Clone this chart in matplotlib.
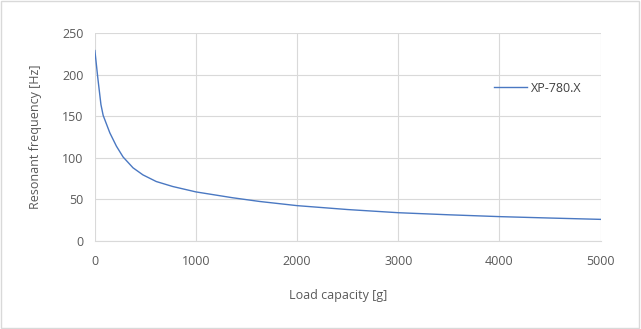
import matplotlib
matplotlib.use("Agg")
import matplotlib.pyplot as plt
from matplotlib.patches import Rectangle

# Values
load_g = [0, 30, 60, 82, 148, 213, 279, 377, 475, 607, 770, 1000,
          1361, 1630, 2000, 2500, 3000, 3500, 4000, 4500, 5000]
freq_hz = [229, 195, 164, 151, 130, 114, 101, 88, 79.5, 71.5, 65.5, 59,
           52, 47.5, 42.5, 37.8, 34, 31.5, 29.3, 27.6, 26]
series_name = "XP-780.X"
x_ticks = [0, 1000, 2000, 3000, 4000, 5000]
y_ticks = [0, 50, 100, 150, 200, 250]

plt.rcParams['font.family'] = ['Open Sans', 'DejaVu Sans']
text_col = "#595959"

fig = plt.figure(figsize=(6.41, 3.29), dpi=100)
fig.patches.append(Rectangle((0.002, 0.004), 0.995, 0.992, transform=fig.transFigure,
                             fill=False, edgecolor="#d9d9d9", linewidth=1))
ax = fig.add_axes([0.148, 0.2675, 0.789, 0.632])

ax.plot(load_g, freq_hz, color="#4a78c2", linewidth=1.0, label=series_name)

ax.set_xlim(0, 5000)
ax.set_ylim(0, 250)
ax.set_xticks(x_ticks)
ax.set_yticks(y_ticks)
ax.grid(True, color="#d9d9d9", linewidth=0.8)
ax.set_axisbelow(True)
for s in ["top", "right", "left"]:
    ax.spines[s].set_visible(False)
ax.spines["bottom"].set_color("#d9d9d9")
ax.tick_params(length=0, labelsize=9, colors=text_col)
ax.tick_params(axis="x", pad=10)
ax.tick_params(axis="y", pad=8)

ax.set_xlabel("Load capacity [g]", fontsize=9, color=text_col)
ax.xaxis.set_label_coords((338 - 95) / 506, -0.23)
ax.set_ylabel("Resonant frequency [Hz]", fontsize=9, color=text_col, labelpad=15)

leg = ax.legend(loc="upper right", bbox_to_anchor=(0.985, 0.82), frameon=False,
                fontsize=9, handlelength=2.7, handletextpad=0.3)
for t in leg.get_texts():
    t.set_color("#404040")

fig.savefig("out.png", dpi=100)
